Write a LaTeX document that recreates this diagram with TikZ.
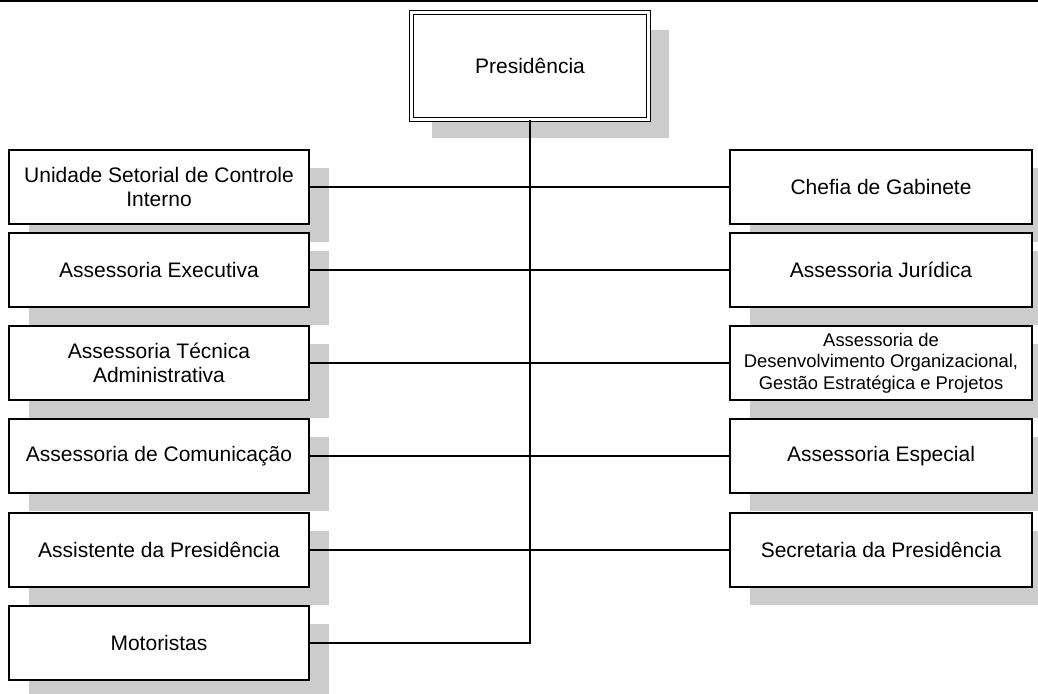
\documentclass[tikz,border=0pt]{standalone}
\usepackage{fontspec}
\setmainfont{Liberation Sans}
\usetikzlibrary{shadows}
\definecolor{shadowgray}{gray}{0.8}
\tikzset{
  unitbox/.style={draw=black, line width=1.6pt, fill=white, rectangle,
    minimum height=74pt, inner sep=2pt, align=center,
    font=\fontsize{21}{24}\selectfont,
    drop shadow={shadow xshift=20pt, shadow yshift=-18pt, fill=shadowgray, opacity=1}},
  leftbox/.style={unitbox, minimum width=300pt},
  rightbox/.style={unitbox, minimum width=302pt},
  topbox/.style={draw=black, line width=1.4pt, double=white, double distance=2.4pt,
    fill=white, rectangle, minimum width=237pt, minimum height=107pt,
    font=\fontsize{21}{24}\selectfont,
    drop shadow={shadow xshift=20pt, shadow yshift=-18pt, fill=shadowgray, opacity=1}},
  link/.style={draw=black, line width=1.6pt}
}
\begin{document}
\begin{tikzpicture}[x=1pt,y=-1pt]
\useasboundingbox (0,0) rectangle (1038,693);
\draw[line width=1.6pt] (0,0.8) -- (1038,0.8);

\node[topbox] (pres) at (530,66) {Presidência};

\node[leftbox] (l1) at (159,187) {Unidade Setorial de Controle\\Interno};
\node[leftbox] (l2) at (159,270) {Assessoria Executiva};
\node[leftbox] (l3) at (159,363) {Assessoria Técnica\\Administrativa};
\node[leftbox] (l4) at (159,456) {Assessoria de Comunicação};
\node[leftbox] (l5) at (159,550) {Assistente da Presidência};
\node[leftbox] (l6) at (159,643) {Motoristas};

\node[rightbox] (r1) at (881,187) {Chefia de Gabinete};
\node[rightbox] (r2) at (881,270) {Assessoria Jurídica};
\node[rightbox, font=\fontsize{18.4}{21.5}\selectfont] (r3) at (881,363) {Assessoria de\\Desenvolvimento Organizacional,\\Gestão Estratégica e Projetos};
\node[rightbox] (r4) at (881,456) {Assessoria Especial};
\node[rightbox] (r5) at (881,550) {Secretaria da Presidência};

\draw[link] (l1.east) -- (r1.west);
\draw[link] (l2.east) -- (r2.west);
\draw[link] (l3.east) -- (r3.west);
\draw[link] (l4.east) -- (r4.west);
\draw[link] (l5.east) -- (r5.west);
\draw[link] (pres.south) |- (l6.east);
\end{tikzpicture}
\end{document}
